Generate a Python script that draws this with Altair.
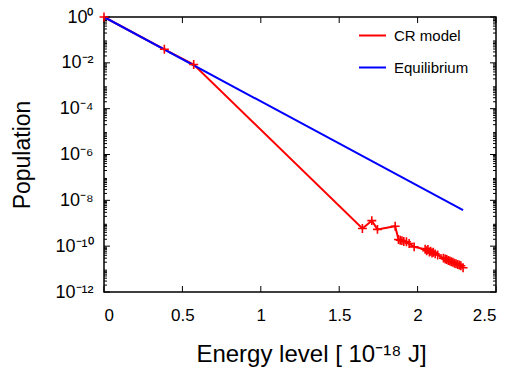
import altair as alt
import pandas as pd

# ---- data ----
cr_energy = [0.0, 0.385, 0.572, 1.648, 1.708, 1.744, 1.857, 1.878, 1.889, 1.900,
             1.912, 1.929, 1.946, 1.978, 2.048, 2.058, 2.066, 2.075, 2.083, 2.092,
             2.100, 2.112, 2.128, 2.165, 2.176, 2.186, 2.196, 2.206, 2.215, 2.225,
             2.235, 2.245, 2.256, 2.266, 2.276, 2.290]
cr_pop = [1.0, 3.9e-2, 8.5e-3, 5.9e-10, 1.3e-9, 5.4e-10, 7.4e-10, 1.95e-10, 1.8e-10, 1.75e-10,
          1.6e-10, 1.55e-10, 1.3e-10, 9.3e-11, 7.4e-11, 6.3e-11, 7.1e-11, 5.6e-11, 6.0e-11, 5.0e-11,
          5.4e-11, 4.6e-11, 4.1e-11, 3.0e-11, 2.75e-11, 2.6e-11, 2.35e-11, 2.25e-11, 2.1e-11, 2.0e-11,
          1.8e-11, 1.7e-11, 1.6e-11, 1.5e-11, 1.4e-11, 1.15e-11]
eq_energy = [0.0, 2.29]
eq_pop = [1.0, 3.7e-9]

series_names = ["CR model", "Equilibrium"]
series_colors = ["#ff0000", "#0000ff"]

x_ticks = [0, 0.5, 1, 1.5, 2, 2.5]
y_ticks = [1, 1e-2, 1e-4, 1e-6, 1e-8, 1e-10, 1e-12]
y_tick_exps = [0, -2, -4, -6, -8, -10, -12]
y_tick_labels = ["10⁰", "10⁻²", "10⁻⁴", "10⁻⁶", "10⁻⁸", "10⁻¹⁰", "10⁻¹²"]
y_minor = [m * 10.0 ** e for e in range(-12, 0) for m in range(2, 10)]

W, H = 392, 275
FONT = "Liberation Sans"

df = pd.DataFrame(
    {"series": ["CR model"] * len(cr_energy) + ["Equilibrium"] * len(eq_energy),
     "energy": cr_energy + eq_energy,
     "pop": cr_pop + eq_pop}
)
cr_df = df[df.series == "CR model"]

label_expr = " : ".join(
    f"round(log(datum.value)/LN10) == {e} ? '{l}'" for e, l in zip(y_tick_exps, y_tick_labels)
) + " : ''"

xscale = alt.Scale(domain=[0, 2.5], nice=False, zero=False)
yscale = alt.Scale(type="log", domain=[1e-12, 1], nice=False)

color = alt.Color(
    "series:N",
    scale=alt.Scale(domain=series_names, range=series_colors),
    legend=alt.Legend(
        title=None, orient="none", legendX=254, legendY=4,
        symbolSize=729, symbolStrokeWidth=2, symbolType="stroke",
        labelFontSize=15, labelFont=FONT, labelOffset=7,
        labelColor="black", rowPadding=9, padding=0,
    ),
)

x_enc = alt.X(
    "energy:Q", scale=xscale,
    axis=alt.Axis(values=x_ticks, format="~g", title="Energy level [  10⁻¹⁸ J]",
                  ticks=False, domain=False, grid=False, labelFontSize=17, labelFont=FONT,
                  labelPadding=15, labelColor="black", titleFontSize=24, titleFont=FONT,
                  titleFontWeight="normal", titleColor="black", titleY=69,
                  titleBaseline="alphabetic", titleX=207),
)
y_enc = alt.Y(
    "pop:Q", scale=yscale,
    axis=alt.Axis(values=y_ticks, labelExpr=label_expr, title="Population",
                  ticks=False, domain=False, grid=False, labelFontSize=18, labelFont=FONT,
                  labelPadding=11, labelColor="black", titleFontSize=23, titleFont=FONT,
                  titleFontWeight="normal", titleColor="black", titleX=-82,
                  titleBaseline="middle"),
)

base = alt.Chart(df)
lines = base.mark_line(strokeWidth=2, clip=False).encode(x=x_enc, y=y_enc, color=color, order="energy:Q")
points = alt.Chart(cr_df).mark_point(
    shape="M-1,0L1,0M0,-1L0,1", size=80, strokeWidth=1.6, filled=False, color="#ff0000", opacity=1
).encode(x=alt.X("energy:Q", scale=xscale), y=alt.Y("pop:Q", scale=yscale))

xt = pd.DataFrame({"t": x_ticks})
ytmaj = pd.DataFrame({"t": y_ticks})
ytmin = pd.DataFrame({"t": y_minor})

tick_style = dict(color="black", strokeWidth=1)
xb = alt.Chart(xt).mark_rule(**tick_style).encode(x=alt.X("t:Q", scale=xscale), y=alt.value(H), y2=alt.value(H - 6))
xtop = alt.Chart(xt).mark_rule(**tick_style).encode(x=alt.X("t:Q", scale=xscale), y=alt.value(0), y2=alt.value(6))
yl = alt.Chart(ytmaj).mark_rule(**tick_style).encode(y=alt.Y("t:Q", scale=yscale), x=alt.value(0), x2=alt.value(6))
yr = alt.Chart(ytmaj).mark_rule(**tick_style).encode(y=alt.Y("t:Q", scale=yscale), x=alt.value(W - 6), x2=alt.value(W))
yml = alt.Chart(ytmin).mark_rule(**tick_style).encode(y=alt.Y("t:Q", scale=yscale), x=alt.value(0), x2=alt.value(3))
ymr = alt.Chart(ytmin).mark_rule(**tick_style).encode(y=alt.Y("t:Q", scale=yscale), x=alt.value(W - 3), x2=alt.value(W))

chart = alt.layer(xb, xtop, yl, yr, yml, ymr, lines, points).properties(
    width=W, height=H,
    autosize=alt.AutoSizeParams(type="none"),
    padding={"left": 104, "top": 17, "right": 17, "bottom": 84},
    background="white",
).configure_view(stroke="black", strokeWidth=1.5)

chart.save("out.html", embed_options={"renderer": "svg", "actions": False})
